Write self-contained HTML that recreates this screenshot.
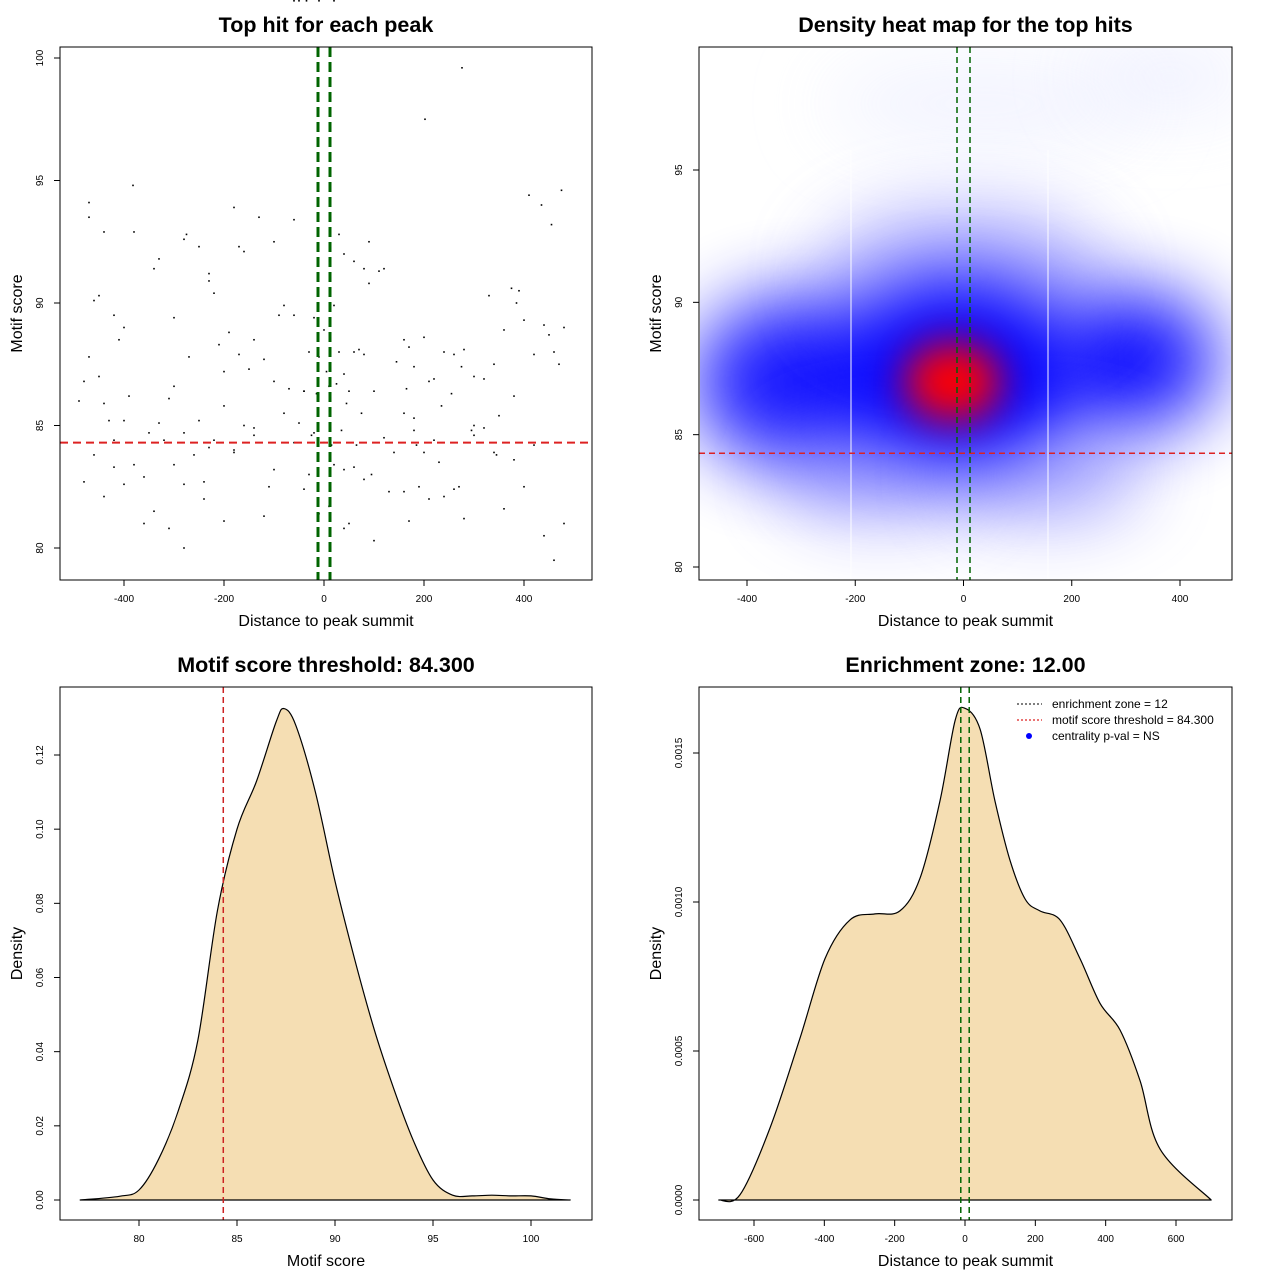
<!DOCTYPE html>
<html><head><meta charset="utf-8">
<style>
html,body{margin:0;padding:0;background:#fff;overflow:hidden;}
svg{display:block;font-family:"Liberation Sans",sans-serif;}
</style></head>
<body>
<svg id="fig" width="1280" height="1280" viewBox="0 0 1280 1280" xmlns="http://www.w3.org/2000/svg">
<defs>
<filter id="blur1" filterUnits="userSpaceOnUse" x="500" y="-200" width="1000" height="1000"><feGaussianBlur stdDeviation="38"/></filter>
<filter id="blur2" filterUnits="userSpaceOnUse" x="500" y="-200" width="1000" height="1000"><feGaussianBlur stdDeviation="20"/></filter>
<clipPath id="clipHM"><rect x="700" y="48" width="531" height="531"/></clipPath>
</defs>
<g id="p1"></g>
<g id="p2"></g>
<g id="p3"></g>
<g id="p4"></g>
</svg>
<script>
// ---------- Data ----------
const scatterX = [276,202,-382,-470,-470,-440,-380,-180,-275,-280,-250,-230,-60,-220,-130,-170,-160,-100,30,40,60,80,90,110,120,90,-330,-340,-400,-420,-460,-450,-480,-490,-470,-440,-420,-400,-350,-310,-300,-280,-250,-230,-210,-200,-190,-170,-150,-140,-120,-100,-80,-60,-40,-30,-20,-10,0,10,20,30,40,50,60,70,80,100,160,170,180,200,220,240,260,280,300,320,340,360,380,400,420,440,460,480,-480,-460,-440,-420,-400,-380,-360,-340,-320,-300,-280,-260,-240,-220,-200,-180,-160,-140,-120,-100,-80,-60,-40,-20,0,20,40,60,80,100,120,140,160,180,200,220,240,260,280,300,320,340,360,380,400,420,440,460,480,-360,-310,-280,-240,-180,-110,-30,-10,10,40,50,130,170,190,230,270,300,390,450,470,-450,-430,-410,-390,-330,-300,-270,-230,-200,-140,-90,-70,-50,-40,-25,-15,5,15,25,35,45,65,75,95,145,165,185,210,235,255,275,295,345,375,410,435,455,475,330,210,180,350,385,160,-10,20,-50,-60,-35];
const scatterY = [99.6,97.5,94.8,94.1,93.5,92.9,92.9,93.9,92.8,92.6,92.3,91.2,93.4,90.4,93.5,92.3,92.1,92.5,92.8,92.0,91.7,91.4,92.5,91.3,91.4,90.8,91.8,91.4,89.0,89.5,90.1,90.3,86.8,86.0,87.8,85.9,84.4,85.2,84.7,86.1,86.6,84.7,85.2,84.1,88.3,87.2,88.8,87.9,87.3,88.5,87.7,86.8,89.9,89.5,86.4,88.0,89.4,87.8,88.9,86.6,89.9,88.0,87.1,86.4,88.0,88.1,87.9,86.4,85.5,88.2,87.4,88.6,86.9,88.0,87.9,88.1,87.0,86.9,87.5,88.9,86.2,89.3,87.9,89.1,88.0,89.0,82.7,83.8,82.1,83.3,82.6,83.4,82.9,81.5,84.4,83.4,82.6,83.8,82.0,84.4,81.1,83.9,85.0,84.6,81.3,83.2,85.5,84.3,82.4,84.7,84.3,83.4,83.2,83.3,82.8,80.3,84.5,83.9,82.3,84.8,83.9,84.4,82.1,82.4,81.2,84.6,84.9,83.9,81.6,83.6,82.5,84.2,80.5,79.5,81.0,81.0,80.8,80.0,82.7,84.0,82.5,83.0,81.4,81.7,80.8,81.0,82.3,81.1,82.5,83.5,82.5,85.0,90.5,88.7,87.5,87.0,85.2,88.5,86.2,85.1,89.4,87.8,90.9,85.8,84.9,89.5,86.5,85.1,86.4,84.6,86.3,87.2,84.2,86.7,84.8,85.9,84.2,85.5,83.0,87.6,86.5,84.2,82.0,85.8,86.3,87.4,84.8,83.8,90.6,94.4,94.0,93.2,94.6,90.3,86.8,85.3,85.4,90.0,88.5];
const densX1 = [77,79,80,81,82,83,84,85,86,87,87.4,88,89,90,91,92,93,94,95,96,97,98,99,100,101,102];
const densY1 = [0,0.001,0.0027,0.011,0.024,0.043,0.078,0.100,0.113,0.129,0.1325,0.128,0.110,0.086,0.065,0.046,0.030,0.016,0.0054,0.0013,0.0011,0.0013,0.0011,0.0011,0.0003,0];
const densX2 = [-700,-640,-555,-470,-398,-327,-256,-185,-128,-71,-28,0,43,85,128,171,213,270,327,384,441,498,555,700];
const densY2 = [0,0.000017,0.00024,0.00054,0.00081,0.00094,0.00096,0.00097,0.00108,0.00134,0.00161,0.00165,0.00158,0.00134,0.00114,0.00101,0.00097,0.00094,0.00081,0.00066,0.00057,0.0004,0.00017,0];
// heatmap kernels: centers (data units), spreads, colors
const hmX = [-10,-300,300,-150,150,0,40,-10,-20,380];
const hmY = [87.3,87.0,87.8,83.5,83.5,91,97.5,87.5,87.0,98.5];
const hmSX = [230,200,170,180,180,260,300,170,90,160];
const hmSY = [3.4,3.2,2.6,1.6,1.6,2.6,1.6,2.8,1.5,1.2];
const hmCol = ['#0000ff','#0000ff','#0000ff','#7878ff','#7878ff','#7a7aff','#eef0ff','#0000ff','#ff0000','#e8eaff'];
const hmOp = [1,0.9,0.95,0.7,0.7,0.6,0.8,1,1,0.8];
const threshold = 84.3, zone = 12;

const NS='http://www.w3.org/2000/svg';
function mk(parent,tag,attrs,text){const e=document.createElementNS(NS,tag);for(const k in attrs)e.setAttribute(k,attrs[k]);if(text!==undefined)e.textContent=text;parent.appendChild(e);return e;}
function lin(d0,d1,r0,r1){return v=>r0+(v-d0)*(r1-r0)/(d1-d0);}
function smooth(pts){let d='M'+pts[0][0].toFixed(1)+','+pts[0][1].toFixed(1);
  for(let i=0;i<pts.length-1;i++){const p0=pts[Math.max(0,i-1)],p1=pts[i],p2=pts[i+1],p3=pts[Math.min(pts.length-1,i+2)];
    const c1=[p1[0]+(p2[0]-p0[0])/6,p1[1]+(p2[1]-p0[1])/6],c2=[p2[0]-(p3[0]-p1[0])/6,p2[1]-(p3[1]-p1[1])/6];
    d+=` C${c1[0].toFixed(1)},${c1[1].toFixed(1)} ${c2[0].toFixed(1)},${c2[1].toFixed(1)} ${p2[0].toFixed(1)},${p2[1].toFixed(1)}`;}
  return d;}

function axes(g,box,xs,ys,xt,yt,ylab,title,xl,yl,p){
  let e=mk(g,'rect',{x:box.x,y:box.y,width:box.w,height:box.h,fill:'none',stroke:'#000','stroke-width':1});
  
  
  xt.forEach(v=>{const x=xs(v);mk(g,'line',{x1:x,x2:x,y1:box.y+box.h,y2:box.y+box.h+6,stroke:'#000'});
    e=mk(g,'text',{x:x,y:box.y+box.h+22,'font-size':10,'text-anchor':'middle'},String(v));
    
    });
  yt.forEach((v,i)=>{const y=ys(v);mk(g,'line',{x1:box.x,x2:box.x-6,y1:y,y2:y,stroke:'#000'});
    e=mk(g,'text',{x:box.x-17,y:y,'font-size':10,'text-anchor':'middle',transform:`rotate(-90 ${box.x-17} ${y})`},ylab[i]);
    
    });
  e=mk(g,'text',{x:box.x+box.w/2,y:box.y-15,'font-size':21.5,'font-weight':'bold','text-anchor':'middle'},title);
  
  
  e=mk(g,'text',{x:box.x+box.w/2,y:box.y+box.h+46,'font-size':16,'text-anchor':'middle'},xl);
  
  
  const ly=box.y+box.h/2;
  e=mk(g,'text',{x:box.x-38,y:ly,'font-size':16,'text-anchor':'middle',transform:`rotate(-90 ${box.x-38} ${ly})`},yl);
  
  
}

// ---------- Panel 1 ----------
(function(){
 const g=document.getElementById('p1');
 const box={x:60,y:47,w:532,h:533};
 const xs=lin(0,400,324,524), ys=lin(80,100,548,58);
 scatterX.forEach((v,i)=>{const c=mk(g,'rect',{x:xs(v)-0.8,y:ys(scatterY[i])-0.8,width:1.6,height:1.6,fill:'#000'});
   
   });
 let e=mk(g,'line',{x1:60,x2:592,y1:ys(threshold),y2:ys(threshold),stroke:'#dd2222','stroke-width':2,'stroke-dasharray':'8,5'});
 
 
 [-zone,zone].forEach(z=>{e=mk(g,'line',{x1:xs(z),x2:xs(z),y1:47,y2:580,stroke:'#006400','stroke-width':3,'stroke-dasharray':'10,5'});
  
  });
 axes(g,box,xs,ys,[-400,-200,0,200,400],[80,85,90,95,100],['80','85','90','95','100'],'Top hit for each peak','Distance to peak summit','Motif score','scatter');
})();

// ---------- Panel 2 ----------
(function(){
 const g=document.getElementById('p2');
 const box={x:699,y:47,w:533,h:533};
 const xs=lin(0,400,963.5,1180), ys=lin(80,95,567,170);
 const hg=mk(g,'g',{'clip-path':'url(#clipHM)'});
 
 
 hmX.forEach((v,i)=>{
   const rx=hmSX[i]*0.541, ry=hmSY[i]*26.47;
   const el=mk(hg,'ellipse',{cx:xs(v),cy:ys(hmY[i]),rx:rx,ry:ry,fill:hmCol[i],opacity:hmOp[i],filter:i===8?'url(#blur2)':'url(#blur1)'});
   
   
 });
 [851,1048].forEach(x=>{mk(hg,'line',{x1:x,x2:x,y1:150,y2:580,stroke:'#fff','stroke-width':1.2,opacity:0.8});});
 let e=mk(g,'line',{x1:699,x2:1232,y1:ys(threshold),y2:ys(threshold),stroke:'#dd2222','stroke-width':1.5,'stroke-dasharray':'6,4'});
 
 
 [-zone,zone].forEach(z=>{e=mk(g,'line',{x1:xs(z),x2:xs(z),y1:47,y2:580,stroke:'#006400','stroke-width':1.5,'stroke-dasharray':'6,4'});
  
  });
 axes(g,box,xs,ys,[-400,-200,0,200,400],[80,85,90,95],['80','85','90','95'],'Density heat map for the top hits','Distance to peak summit','Motif score','heatmap');
})();

// ---------- Panel 3 ----------
(function(){
 const g=document.getElementById('p3');
 const box={x:60,y:687,w:532,h:533};
 const xs=lin(80,100,139,531), ys=lin(0,0.12,1200,755);
 const pts=densX1.map((v,i)=>[xs(v),ys(densY1[i])]);
 let e=mk(g,'path',{d:smooth(pts)+' Z',fill:'#f5deb3',stroke:'#000','stroke-width':1.2,'stroke-linejoin':'round'});
 
 
 e=mk(g,'line',{x1:xs(threshold),x2:xs(threshold),y1:687,y2:1220,stroke:'#cc2222','stroke-width':1.5,'stroke-dasharray':'6,4'});
 
 
 axes(g,box,xs,ys,[80,85,90,95,100],[0,0.02,0.04,0.06,0.08,0.10,0.12],['0.00','0.02','0.04','0.06','0.08','0.10','0.12'],'Motif score threshold: 84.300','Motif score','Density','score-density');
})();

// ---------- Panel 4 ----------
(function(){
 const g=document.getElementById('p4');
 const box={x:699,y:687,w:533,h:533};
 const xs=lin(0,600,965,1176), ys=lin(0,0.0015,1200,753);
 const pts=densX2.map((v,i)=>[xs(v),ys(densY2[i])]);
 let e=mk(g,'path',{d:smooth(pts)+' Z',fill:'#f5deb3',stroke:'#000','stroke-width':1.2,'stroke-linejoin':'round'});
 
 
 [-zone,zone].forEach(z=>{e=mk(g,'line',{x1:xs(z),x2:xs(z),y1:687,y2:1220,stroke:'#006400','stroke-width':1.5,'stroke-dasharray':'6,4'});
  
  });
 axes(g,box,xs,ys,[-600,-400,-200,0,200,400,600],[0,0.0005,0.001,0.0015],['0.0000','0.0005','0.0010','0.0015'],'Enrichment zone: 12.00','Distance to peak summit','Density','distance-density');
 const lg=mk(g,'g',{});
 
 
 const items=[['enrichment zone = 12','#333','line'],['motif score threshold = 84.300','#dd2222','line'],['centrality p-val = NS','#0000ff','dot']];
 items.forEach((it,i)=>{const y=704+i*16;
   if(it[2]==='line') mk(lg,'line',{x1:1017,x2:1042,y1:y,y2:y,stroke:it[1],'stroke-dasharray':'2,2','stroke-width':1.2});
   else mk(lg,'circle',{cx:1029,cy:y,r:3,fill:it[1]});
   const t=mk(lg,'text',{x:1052,y:y+4,'font-size':12},it[0]);
   
   });
})();
</script>
</body></html>
